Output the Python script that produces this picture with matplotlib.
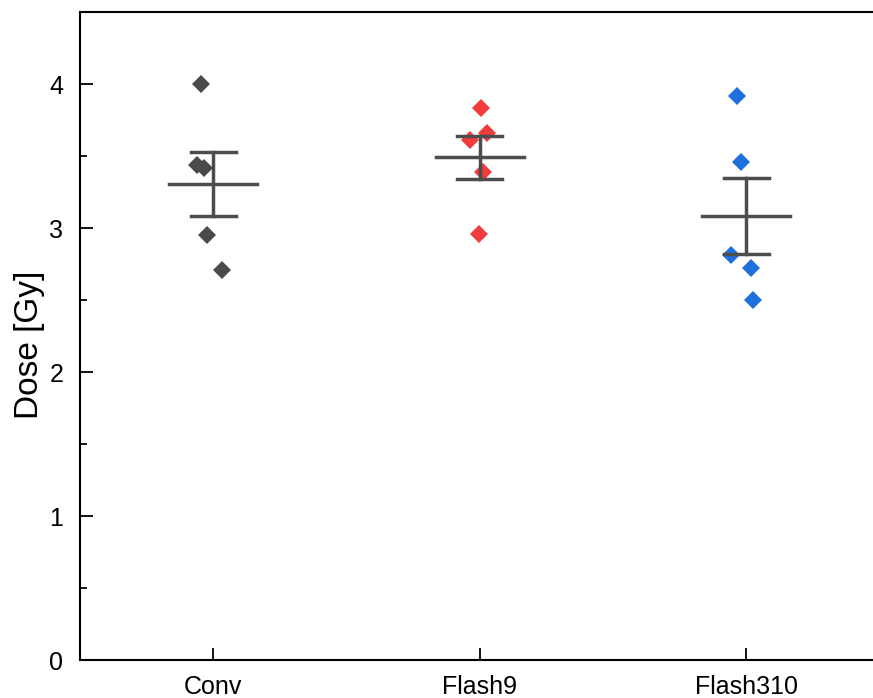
import matplotlib.pyplot as plt
import numpy as np

plt.rcParams['font.family'] = ['Liberation Sans', 'DejaVu Sans']

groups = ['Conv', 'Flash9', 'Flash310']
conv = [4.00, 3.44, 3.42, 2.95, 2.71]
flash9 = [3.83, 3.66, 3.61, 3.39, 2.96]
flash310 = [3.92, 3.46, 2.81, 2.72, 2.50]
# horizontal scatter of the points around each category
conv_jit = [-0.045, -0.060, -0.034, -0.023, 0.034]
flash9_jit = [0.004, 0.026, -0.038, 0.011, -0.004]
flash310_jit = [-0.034, -0.019, -0.056, 0.019, 0.026]

colors = ['#4a4a4a', '#f03c3c', '#1f6fdc']
data = [conv, flash9, flash310]
jits = [conv_jit, flash9_jit, flash310_jit]

fig = plt.figure(figsize=(8.73, 6.98), dpi=100)
ax = fig.add_axes([0.0916, 0.0544, 0.916, 0.9284])

for i, (vals, jit, c) in enumerate(zip(data, jits, colors)):
    x0 = i + 1
    vals = np.array(vals)
    ax.plot(x0 + np.array(jit), vals, 'D', color=c, markersize=9.5,
            markeredgewidth=0, zorder=2)
    m = vals.mean()
    sem = vals.std(ddof=1) / np.sqrt(len(vals))
    lc = '#4d4d4d'
    ax.plot([x0 - 0.165, x0 + 0.165], [m, m], color=lc, lw=2.5, zorder=3)
    ax.plot([x0, x0], [m - sem, m + sem], color=lc, lw=2.5, zorder=3)
    for y in (m - sem, m + sem):
        ax.plot([x0 - 0.085, x0 + 0.085], [y, y], color=lc, lw=2.5, zorder=3)

ax.set_xlim(0.5, 3.5)
ax.set_ylim(0, 4.5)
ax.set_xticks([1, 2, 3])
ax.set_xticklabels(groups)
ax.set_yticks([0, 1, 2, 3, 4])
ax.set_yticks(np.arange(0.5, 4.5, 1.0), minor=True)
ax.tick_params(direction='in', length=9, width=1.3, labelsize=18)
ax.tick_params(which='minor', direction='in', length=5, width=1.3)
ax.tick_params(axis='x', pad=11)
ax.tick_params(axis='y', pad=12)
for s in ax.spines.values():
    s.set_linewidth(1.5)
ax.set_ylabel('Dose [Gy]', fontsize=24, labelpad=3, y=0.486)

fig.savefig('out.png', dpi=100)
